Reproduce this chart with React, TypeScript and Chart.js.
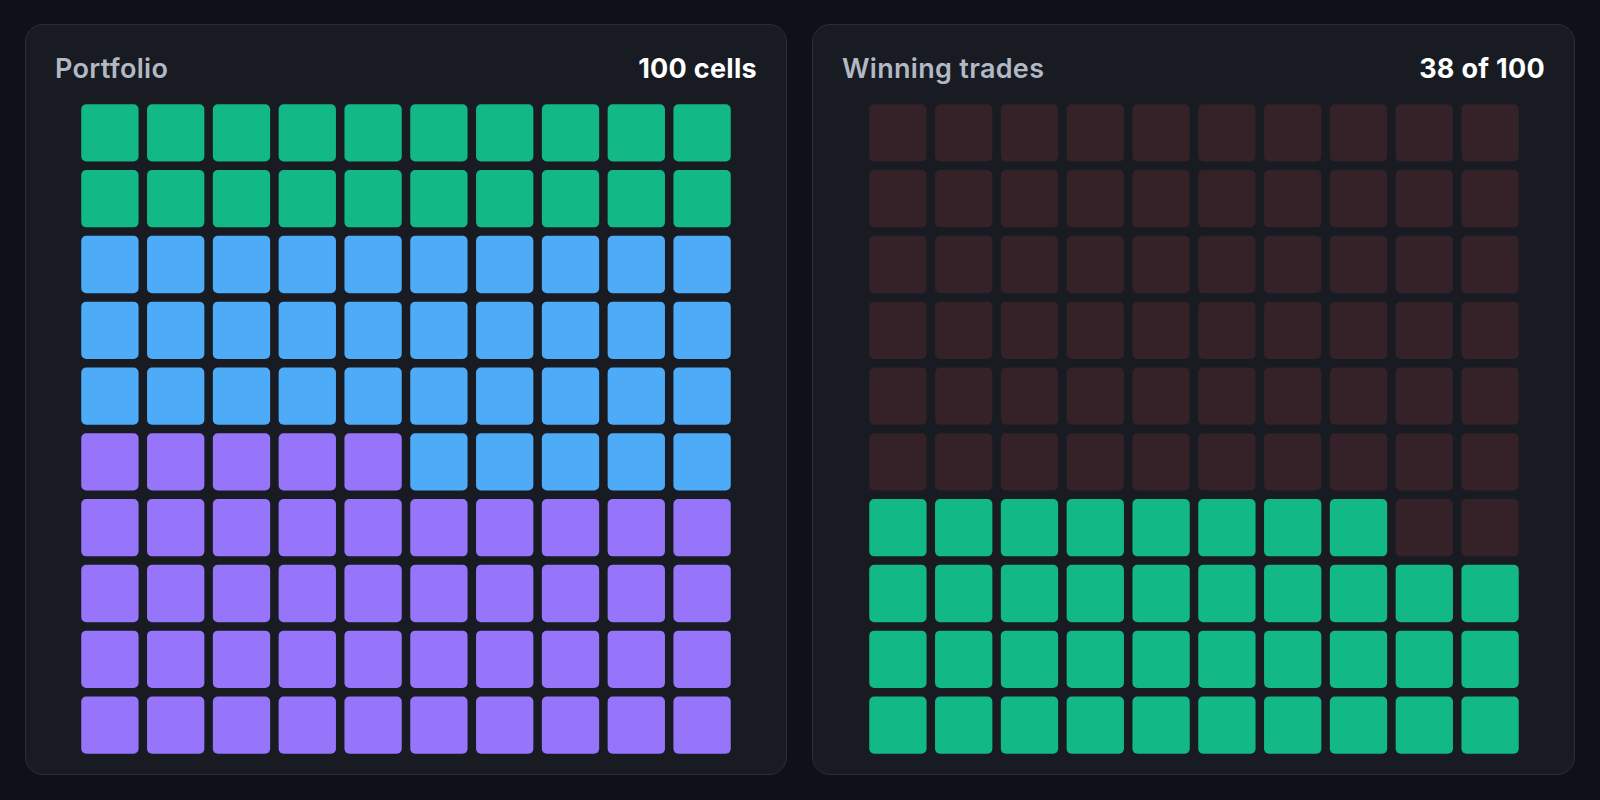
import React, { useEffect, useRef } from "react";
import { Chart, registerables } from "chart.js";

Chart.register(...registerables);

// ---- data ----
const portfolioLabels = ["Segment C", "Segment B", "Segment A"]; // fill order, bottom-left first
const portfolioCounts = [45, 35, 20];
const portfolioColors = ["#9775fa", "#4dabf7", "#12b886"];

const tradeLabels = ["Winning", "Other"];
const tradeCounts = [38, 62];
const tradeColors = ["#12b886", "#352128"];

const GRID_COLS = 10;
const GRID_ROWS = 10;
const CELL_GAP = 0.0645; // half gap, in row units
const CANVAS_SIZE = 658;

function buildDatasets(labels: string[], counts: number[], colors: string[]) {
  let idx = 0;
  return labels.map((label, k) => {
    const data: { x: number; y: [number, number] }[] = [];
    for (let n = 0; n < counts[k]; n++, idx++) {
      const row = Math.floor(idx / GRID_COLS);
      const col = idx % GRID_COLS;
      data.push({ x: col + 0.5, y: [row + CELL_GAP, row + 1 - CELL_GAP] });
    }
    return {
      label,
      data,
      backgroundColor: colors[k],
      borderWidth: 0,
      borderRadius: 5,
      borderSkipped: false as const,
      inflateAmount: 0,
      grouped: false,
      categoryPercentage: 1,
      barPercentage: 1 - 2 * CELL_GAP,
    };
  });
}

function Waffle({ labels, counts, colors }: { labels: string[]; counts: number[]; colors: string[] }) {
  const ref = useRef<HTMLCanvasElement | null>(null);
  useEffect(() => {
    if (!ref.current) return;
    const chart = new Chart(ref.current, {
      type: "bar",
      data: { datasets: buildDatasets(labels, counts, colors) as any },
      options: {
        animation: false,
        responsive: false,
        maintainAspectRatio: false,
        layout: { padding: 0 },
        plugins: { legend: { display: false }, tooltip: { enabled: true } },
        scales: {
          x: { type: "linear", min: 0, max: GRID_COLS, display: false, offset: false },
          y: { type: "linear", min: 0, max: GRID_ROWS, display: false },
        },
      },
    });
    return () => chart.destroy();
  }, []);
  return (
    <canvas
      ref={ref}
      width={CANVAS_SIZE}
      height={CANVAS_SIZE}
      style={{ width: CANVAS_SIZE, height: CANVAS_SIZE, display: "block" }}
    />
  );
}

function Panel({
  left,
  width,
  title,
  value,
  children,
}: {
  left: number;
  width: number;
  title: string;
  value: string;
  children: React.ReactNode;
}) {
  const textBase: React.CSSProperties = {
    position: "absolute",
    top: 30,
    fontFamily: "Inter, sans-serif",
    fontSize: 27,
    lineHeight: "27px",
    letterSpacing: 0.3,
    whiteSpace: "nowrap",
  };
  return (
    <div
      style={{
        position: "absolute",
        left,
        top: 24,
        width,
        height: 751,
        boxSizing: "border-box",
        background: "#181b22",
        border: "1px solid #2a2e37",
        borderRadius: 18,
      }}
    >
      <div style={{ ...textBase, left: 29, fontWeight: 600, color: "#b2b9c4" }}>{title}</div>
      <div style={{ ...textBase, right: 29, fontWeight: 700, color: "#ffffff" }}>{value}</div>
      <div style={{ position: "absolute", left: (width - CANVAS_SIZE) / 2 - 1, top: 75 }}>{children}</div>
    </div>
  );
}

export default function App() {
  return (
    <div
      style={{
        position: "fixed",
        left: 0,
        top: 0,
        width: 1600,
        height: 800,
        background: "#0e1117",
        overflow: "hidden",
      }}
    >
      <Panel left={25} width={762} title="Portfolio" value="100 cells">
        <Waffle labels={portfolioLabels} counts={portfolioCounts} colors={portfolioColors} />
      </Panel>
      <Panel left={812} width={763} title="Winning trades" value="38 of 100">
        <Waffle labels={tradeLabels} counts={tradeCounts} colors={tradeColors} />
      </Panel>
    </div>
  );
}
